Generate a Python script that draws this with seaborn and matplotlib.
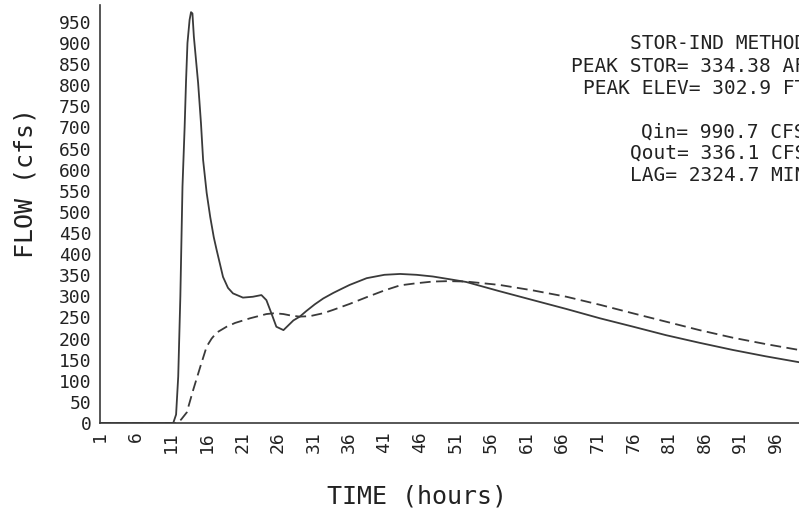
import pandas as pd
import matplotlib
matplotlib.use('Agg')
import matplotlib.pyplot as plt
import seaborn as sns

# Inflow hydrograph (solid): hours, cfs
inflow_hours = [1, 11.3, 11.7, 12.0, 12.3, 12.6, 12.9, 13.1, 13.3, 13.6,
                13.8, 14.0, 14.2, 14.5, 14.8, 15.2, 15.5, 16.0, 16.5, 17.0,
                17.4, 18.3, 19.0, 19.7, 21.1, 22.5, 23.7, 24.4, 25.1, 25.8,
                26.8, 28.2, 29.1, 30.0, 31.2, 32.4, 33.8, 35.0, 36.1, 38.5,
                41.0, 43.2, 45.5, 47.8, 50.0, 52.5, 57.0, 61.9, 66.6, 71.3,
                76.0, 80.6, 85.3, 90.0, 94.6, 99.3]
inflow_cfs = [0, 0, 20, 110, 300, 560, 700, 810, 900, 955,
              973, 970, 915, 860, 805, 710, 623, 545, 488, 440,
              410, 346, 320, 307, 297, 299, 303, 291, 260, 228,
              220, 243, 252, 265, 281, 295, 308, 318, 327, 343,
              351, 353, 351, 347, 341, 334, 313, 291, 270, 248,
              228, 208, 190, 173, 158, 144]

# Routed outflow (dashed)
outflow_hours = [1, 11.8, 12.4, 13.2, 14.1, 15.1, 16.0, 16.7, 17.4, 18.8,
                 20.0, 22.1, 24.4, 25.5, 26.8, 28.0, 29.1, 30.5, 32.4, 33.8,
                 36.1, 38.5, 41.0, 43.2, 45.5, 47.8, 50.0, 52.5, 57.2, 61.9,
                 66.6, 71.3, 75.9, 80.6, 85.3, 90.0, 94.6, 99.3]
outflow_cfs = [0, 0, 8, 25, 78, 133, 181, 200, 214, 228,
               237, 248, 258, 260, 258, 254, 252, 253, 260, 268,
               282, 298, 314, 326, 331, 335, 336, 335, 327, 314,
               299, 280, 260, 240, 220, 202, 187, 173]

time_ticks = list(range(1, 97, 5))
flow_ticks = list(range(0, 951, 50))

summary_lines = ['STOR-IND METHOD', 'PEAK STOR= 334.38 AF', 'PEAK ELEV= 302.9 FT',
                 'Qin= 990.7 CFS', 'Qout= 336.1 CFS', 'LAG= 2324.7 MIN']

df_in = pd.DataFrame({'hours': inflow_hours, 'cfs': inflow_cfs})
df_out = pd.DataFrame({'hours': outflow_hours, 'cfs': outflow_cfs})

sns.set_style('white')
plt.rcParams['font.family'] = ['DejaVu Sans Mono']
ink = '#3a3a3a'

fig = plt.figure(figsize=(7.99, 5.27), dpi=100)
ax = fig.add_axes([100 / 799, 104 / 527, 699 / 799, 418 / 527])

sns.lineplot(ax=ax, data=df_in, x='hours', y='cfs', color=ink, lw=1.3, errorbar=None)
sns.lineplot(ax=ax, data=df_out, x='hours', y='cfs', color=ink, lw=1.3,
             linestyle=(0, (6, 3)), errorbar=None)

ax.set_xlim(1, 99.3)
ax.set_ylim(0, 990)
ax.set_xticks(time_ticks)
ax.set_xticklabels([str(t) for t in time_ticks], rotation=90, fontsize=13, color='#222')
ax.set_yticks(flow_ticks)
ax.set_yticklabels([str(f) for f in flow_ticks], fontsize=13, color='#222')
ax.tick_params(direction='in', length=5, width=1, color=ink, pad=6)
sns.despine(ax=ax)
for s in ['left', 'bottom']:
    ax.spines[s].set_color(ink)
    ax.spines[s].set_linewidth(1.2)

ax.set_xlabel('TIME (hours)', fontsize=18, color='#222', va='center')
ax.xaxis.set_label_coords(0.4535, -0.177)
ax.set_ylabel('FLOW (cfs)', fontsize=18, color='#222', va='center')
ax.yaxis.set_label_coords(-0.107, 0.574)

# summary block runs off the right edge, as in the original printout
line_y = [0.909, 0.854, 0.801, 0.696, 0.646, 0.593]
for txt, yy in zip(summary_lines, line_y):
    ax.text(1.01, yy, txt, transform=ax.transAxes, ha='right', va='center',
            fontsize=14, color='#222', clip_on=False)

fig.savefig('out.png', dpi=100)
